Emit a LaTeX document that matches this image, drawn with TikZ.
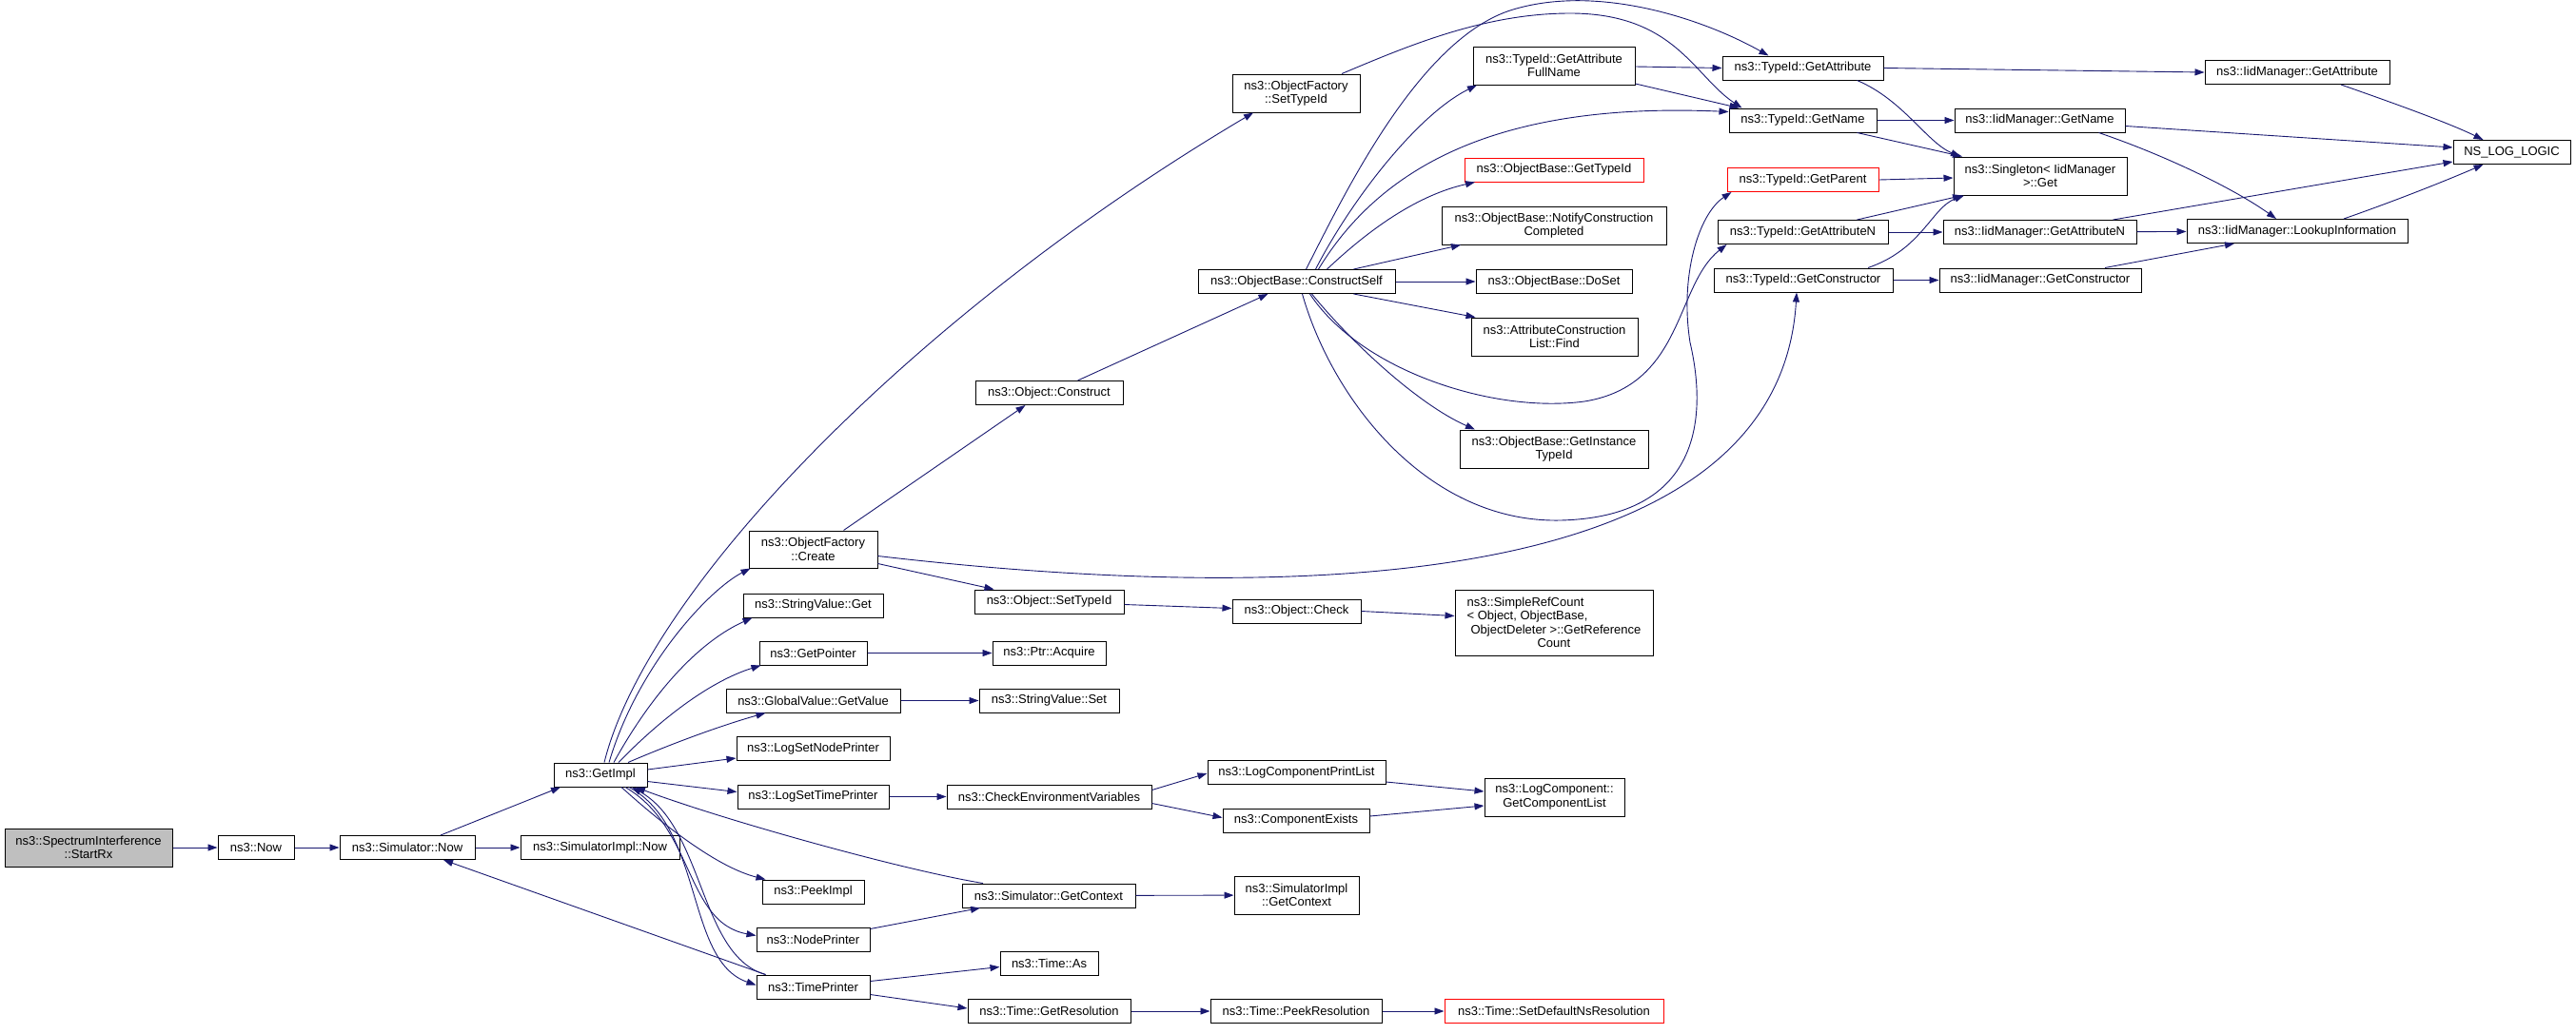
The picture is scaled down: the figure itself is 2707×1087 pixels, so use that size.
\documentclass[tikz,border=0pt]{standalone}
\usepackage{fontspec}
\setmainfont{Liberation Sans}
\usetikzlibrary{arrows.meta}
\definecolor{edgeblue}{HTML}{191970}
\definecolor{rootgrey}{HTML}{BFBFBF}

\begin{document}
\begin{tikzpicture}[x=1pt, y=-1pt,
    fn/.style={draw=black, line width=1pt, fill=white, inner sep=0pt, minimum height=25pt, align=center, font=\fontsize{13}{14.5}\selectfont},
    root/.style={fn, fill=rootgrey},
    undoc/.style={fn, draw=red},
    call/.style={-{Triangle[length=10pt, width=7pt]}, edgeblue, line width=0.9pt}]
    \useasboundingbox (0,0) rectangle (2707,1087);

    \node[root, minimum width=176pt, minimum height=40pt] (startrx) at (93,891) {ns3::SpectrumInterference\\::StartRx};
    \node[fn, minimum width=80pt] (now) at (269,891) {ns3::Now};
    \node[fn, minimum width=142pt] (simnow) at (428,891) {ns3::Simulator::Now};
    \node[fn, minimum width=167pt] (simimplnow) at (630.5,891) {ns3::SimulatorImpl::Now};
    \node[fn, minimum width=98pt] (getimpl) at (631,814.5) {ns3::GetImpl};

    \node[fn, minimum width=135pt, minimum height=39pt] (create) at (854.5,577.5) {ns3::ObjectFactory\\::Create};
    \node[fn, minimum width=147pt] (strget) at (854.5,636.5) {ns3::StringValue::Get};
    \node[fn, minimum width=113pt] (getpointer) at (854.5,686.5) {ns3::GetPointer};
    \node[fn, minimum width=183pt] (getvalue) at (854.5,736.5) {ns3::GlobalValue::GetValue};
    \node[fn, minimum width=161pt] (lognodeprinter) at (854.5,787) {ns3::LogSetNodePrinter};
    \node[fn, minimum width=159pt] (logtimeprinter) at (854.5,837.5) {ns3::LogSetTimePrinter};
    \node[fn, minimum width=107pt] (peekimpl) at (854.5,937.5) {ns3::PeekImpl};
    \node[fn, minimum width=119pt] (nodeprinter) at (854.5,987.5) {ns3::NodePrinter};
    \node[fn, minimum width=119pt] (timeprinter) at (854.5,1037.5) {ns3::TimePrinter};

    \node[fn, minimum width=155pt] (construct) at (1102.5,413) {ns3::Object::Construct};
    \node[fn, minimum width=157pt] (objsettypeid) at (1102.5,632.5) {ns3::Object::SetTypeId};
    \node[fn, minimum width=119pt] (acquire) at (1102.5,686.5) {ns3::Ptr::Acquire};
    \node[fn, minimum width=147pt] (strset) at (1102.5,736.5) {ns3::StringValue::Set};
    \node[fn, minimum width=215pt] (checkenv) at (1102.5,837.5) {ns3::CheckEnvironmentVariables};
    \node[fn, minimum width=182pt] (getcontext) at (1102,941.5) {ns3::Simulator::GetContext};
    \node[fn, minimum width=103pt] (timeas) at (1102.5,1012.5) {ns3::Time::As};
    \node[fn, minimum width=171pt] (getres) at (1102.5,1063) {ns3::Time::GetResolution};

    \node[fn, minimum width=134pt, minimum height=40pt] (ofsettypeid) at (1362,98) {ns3::ObjectFactory\\::SetTypeId};
    \node[fn, minimum width=207pt] (constructself) at (1362.5,296) {ns3::ObjectBase::ConstructSelf};
    \node[fn, minimum width=135pt] (objcheck) at (1362.5,642.5) {ns3::Object::Check};
    \node[fn, minimum width=187pt] (printlist) at (1362.5,812) {ns3::LogComponentPrintList};
    \node[fn, minimum width=154pt] (compexists) at (1362,862.5) {ns3::ComponentExists};
    \node[fn, minimum width=131pt, minimum height=40pt] (implcontext) at (1362.5,941) {ns3::SimulatorImpl\\::GetContext};
    \node[fn, minimum width=180pt] (peekres) at (1362,1063) {ns3::Time::PeekResolution};

    \node[fn, minimum width=170pt, minimum height=40pt] (fullname) at (1633,69) {ns3::TypeId::GetAttribute\\FullName};
    \node[undoc, minimum width=188pt] (obgettypeid) at (1633,178.5) {ns3::ObjectBase::GetTypeId};
    \node[fn, minimum width=236pt, minimum height=40pt] (notify) at (1633,237) {ns3::ObjectBase::NotifyConstruction\\Completed};
    \node[fn, minimum width=164pt] (doset) at (1633,296) {ns3::ObjectBase::DoSet};
    \node[fn, minimum width=175pt, minimum height=40pt] (find) at (1633.5,354) {ns3::AttributeConstruction\\List::Find};
    \node[fn, minimum width=198pt, minimum height=40pt] (instancetypeid) at (1633,472) {ns3::ObjectBase::GetInstance\\TypeId};
    \node[fn, minimum width=208pt, minimum height=69pt, align=left] (simplerefcount) at (1633,654.5) {ns3::SimpleRefCount\\\textless{} Object, ObjectBase,\\\hspace*{4pt}ObjectDeleter \textgreater::GetReference\\\hspace*{74pt}Count};
    \node[fn, minimum width=147pt, minimum height=40pt] (complist) at (1633.5,838) {ns3::LogComponent::\\GetComponentList};
    \node[undoc, minimum width=230pt] (setdefres) at (1633,1063) {ns3::Time::SetDefaultNsResolution};

    \node[fn, minimum width=169pt] (tidgetattr) at (1894.5,71.5) {ns3::TypeId::GetAttribute};
    \node[fn, minimum width=155pt] (tidgetname) at (1894.5,126.5) {ns3::TypeId::GetName};
    \node[undoc, minimum width=159pt] (tidgetparent) at (1894.5,189) {ns3::TypeId::GetParent};
    \node[fn, minimum width=179pt] (tidgetattrn) at (1894.5,244) {ns3::TypeId::GetAttributeN};
    \node[fn, minimum width=188pt] (tidgetctor) at (1895,294.5) {ns3::TypeId::GetConstructor};

    \node[fn, minimum width=179pt] (iidgetname) at (2143.5,126.5) {ns3::IidManager::GetName};
    \node[fn, minimum width=182pt, minimum height=40pt] (singleton) at (2144,185) {ns3::Singleton\textless{} IidManager\\\textgreater::Get};
    \node[fn, minimum width=203pt] (iidgetattrn) at (2143.5,244) {ns3::IidManager::GetAttributeN};
    \node[fn, minimum width=212pt] (iidgetctor) at (2144,294.5) {ns3::IidManager::GetConstructor};

    \node[fn, minimum width=194pt] (iidgetattr) at (2414,76) {ns3::IidManager::GetAttribute};
    \node[fn, minimum width=232pt] (lookup) at (2414,243) {ns3::IidManager::LookupInformation};
    \node[fn, minimum width=123pt] (nslog) at (2639.5,160) {NS\_LOG\_LOGIC};

    \draw[call] (startrx) -- (now);
    \draw[call] (now) -- (simnow);
    \draw[call] (simnow) -- (simimplnow);
    \draw[call] ([xshift=35]simnow.north) -- ([xshift=-42]getimpl.south);
    \draw[call] ([xshift=-50]timeprinter.north) -- ([xshift=38]simnow.south);

    \draw[call] ([xshift=4]getimpl.north) .. controls (680,620) and (960,330) .. ([xshift=-45]ofsettypeid.south);
    \draw[call] ([xshift=9]getimpl.north) .. controls (670,700) and (745,620) .. ([xshift=-66]create.south);
    \draw[call] ([xshift=14]getimpl.north) .. controls (690,720) and (740,672) .. ([xshift=-64]strget.south);
    \draw[call] ([xshift=19]getimpl.north) .. controls (700,750) and (750,715) .. ([xshift=-55]getpointer.south);
    \draw[call] ([xshift=29]getimpl.north) .. controls (710,780) and (760,762) .. ([xshift=-50]getvalue.south);
    \draw[call] ([yshift=5.5]getimpl.east) -- ([yshift=-10]lognodeprinter.west);
    \draw[call] ([yshift=-7]getimpl.east) -- ([yshift=5]logtimeprinter.west);
    \draw[call] ([xshift=-69]getcontext.north) .. controls (950,915) and (760,862) .. ([xshift=37]getimpl.south);
    \draw[call] ([xshift=-50]timeprinter.north) .. controls (735,1005) and (740,870) .. ([xshift=33]getimpl.south);
    \draw[call] ([xshift=30]getimpl.south) .. controls (740,870) and (720,1010) .. ([yshift=2]timeprinter.west);
    \draw[call] ([xshift=26]getimpl.south) .. controls (730,870) and (720,970) .. ([yshift=4]nodeprinter.west);
    \draw[call] ([xshift=22]getimpl.south) .. controls (700,870) and (755,912) .. ([xshift=-50]peekimpl.north);

    \draw[call] ([yshift=11]nodeprinter.east) -- ([xshift=-72]getcontext.south);
    \draw[call] (getcontext) -- (implcontext);
    \draw[call] ([yshift=6]timeprinter.east) -- ([yshift=-4]timeas.west);
    \draw[call] ([yshift=-8]timeprinter.east) -- ([yshift=3]getres.west);
    \draw[call] (getres) -- (peekres);
    \draw[call] (peekres) -- (setdefres);
    \draw[call] (logtimeprinter) -- (checkenv);
    \draw[call] ([yshift=7]checkenv.east) -- ([yshift=-1]printlist.west);
    \draw[call] ([yshift=-7]checkenv.east) -- ([yshift=3]compexists.west);
    \draw[call] ([yshift=-10]printlist.east) -- ([yshift=6]complist.west);
    \draw[call] ([yshift=4.5]compexists.east) -- ([yshift=-9]complist.west);
    \draw[call] (getpointer) -- (acquire);
    \draw[call] (getvalue) -- (strset);

    \draw[call] ([yshift=-15]create.east) -- ([xshift=-58]objsettypeid.north);
    \draw[call] ([yshift=-3]objsettypeid.east) -- ([yshift=3]objcheck.west);
    \draw[call] (objcheck.east) -- ([yshift=7]simplerefcount.west);
    \draw[call] ([xshift=32]create.north) -- ([xshift=-25]construct.south);
    \draw[call] ([xshift=30]construct.north) -- ([xshift=-30]constructself.south);
    \draw[call] ([yshift=-7]create.east) .. controls (1400,640) and (1870,610) .. ([xshift=-7]tidgetctor.south);

    \draw[call] ([xshift=10]constructself.north) .. controls (1410,210) and (1490,40) .. (1590,10) .. controls (1680,-17) and (1790,20) .. ([xshift=-36]tidgetattr.north);
    \draw[call] ([xshift=48]ofsettypeid.north) .. controls (1480,48) and (1560,14) .. (1650,14) .. controls (1760,14) and (1780,80) .. ([xshift=-64]tidgetname.north);
    \draw[call] ([xshift=20]constructself.north) .. controls (1420,210) and (1490,120) .. ([xshift=-81]fullname.south);
    \draw[call] ([xshift=23]constructself.north) .. controls (1460,160) and (1600,108) .. ([yshift=9]tidgetname.west);
    \draw[call] ([xshift=32]constructself.north) .. controls (1440,240) and (1490,205) .. ([xshift=-83]obgettypeid.south);
    \draw[call] ([xshift=60]constructself.north) -- ([xshift=-98]notify.south);
    \draw[call] (constructself) -- (doset);
    \draw[call] ([xshift=60]constructself.south) -- ([xshift=-83]find.north);
    \draw[call] ([xshift=16]constructself.south) .. controls (1420,360) and (1490,425) .. ([xshift=-83]instancetypeid.north);
    \draw[call] ([xshift=14]constructself.south) .. controls (1430,390) and (1570,435) .. (1665,422) .. controls (1770,405) and (1760,300) .. ([xshift=-80]tidgetattrn.south);
    \draw[call] ([xshift=6]constructself.south) .. controls (1400,420) and (1500,550) .. (1640,547) .. controls (1800,543) and (1790,420) .. (1776,360) .. controls (1765,290) and (1785,225) .. ([xshift=-75]tidgetparent.south);

    \draw[call] ([yshift=-1]fullname.east) -- (tidgetattr.west);
    \draw[call] ([yshift=-19]fullname.east) -- ([xshift=-67]tidgetname.north);
    \draw[call] (tidgetattr.east) -- (iidgetattr.west);
    \draw[call] ([xshift=57]tidgetattr.south) .. controls (2000,105) and (2025,150) .. ([xshift=-84]singleton.north);
    \draw[call] (tidgetname) -- (iidgetname);
    \draw[call] ([xshift=57]tidgetname.south) -- ([xshift=-82]singleton.north);
    \draw[call] (tidgetparent.east) -- ([yshift=-2]singleton.west);
    \draw[call] ([xshift=57]tidgetattrn.north) -- ([xshift=-82]singleton.south);
    \draw[call] (tidgetattrn) -- (iidgetattrn);
    \draw[call] ([xshift=68]tidgetctor.north) .. controls (2020,262) and (2030,218) .. ([xshift=-80]singleton.south);
    \draw[call] (tidgetctor) -- (iidgetctor);

    \draw[call] ([xshift=46]iidgetattr.south) .. controls (2520,110) and (2575,130) .. ([xshift=-30]nslog.north);
    \draw[call] ([yshift=-6]iidgetname.east) -- ([yshift=5]nslog.west);
    \draw[call] ([xshift=62]iidgetname.south) .. controls (2280,165) and (2350,200) .. ([xshift=-22]lookup.north);
    \draw[call] ([xshift=77]iidgetattrn.north) -- ([yshift=-10]nslog.west);
    \draw[call] (iidgetattrn) -- (lookup);
    \draw[call] ([xshift=68]iidgetctor.north) -- ([xshift=-66]lookup.south);
    \draw[call] ([xshift=49]lookup.north) .. controls (2520,210) and (2570,190) .. ([xshift=-30]nslog.south);
\end{tikzpicture}
\end{document}
